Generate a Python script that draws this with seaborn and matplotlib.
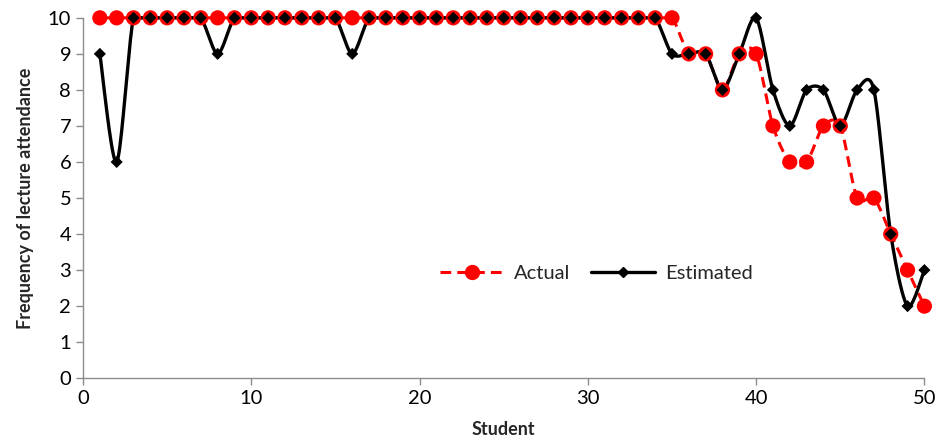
import numpy as np
import pandas as pd
import matplotlib
matplotlib.use("Agg")
import matplotlib.pyplot as plt
from matplotlib.lines import Line2D
import seaborn as sns

students = list(range(1, 51))
actual = [10]*35 + [9, 9, 8, 9, 9, 7, 6, 6, 7, 7, 5, 5, 4, 3, 2]
estimated = ([9, 6, 10, 10, 10, 10, 10, 9] + [10]*7 + [9] + [10]*18 +
             [9, 9, 9, 8, 9, 10, 8, 7, 8, 8, 7, 8, 8, 4, 2, 3])

def smooth(x, y, n=20, k=7.0):
    x = np.asarray(x, float); y = np.asarray(y, float)
    xs, ys = [], []
    N = len(x)
    for i in range(N - 1):
        p0 = np.array([x[max(i-1, 0)], y[max(i-1, 0)]])
        p1 = np.array([x[i], y[i]])
        p2 = np.array([x[i+1], y[i+1]])
        p3 = np.array([x[min(i+2, N-1)], y[min(i+2, N-1)]])
        c1 = p1 + (p2 - p0) / k
        c2 = p2 - (p3 - p1) / k
        t = np.linspace(0, 1, n, endpoint=(i == N - 2))[:, None]
        pts = ((1-t)**3)*p1 + 3*((1-t)**2)*t*c1 + 3*(1-t)*(t**2)*c2 + (t**3)*p2
        xs.extend(pts[:, 0]); ys.extend(pts[:, 1])
    return np.array(xs), np.clip(np.array(ys), y.min(), y.max())

sns.set_style("white")
plt.rcParams['font.family'] = ['Lato', 'DejaVu Sans']

fig = plt.figure(figsize=(9.38, 4.46), dpi=100)
ax = fig.add_axes([0.0885, 0.152, 0.897, 0.808])

df = pd.DataFrame({"Student": students, "Actual": actual, "Estimated": estimated})

ax_x, ay = smooth(students, actual)
ex, ey = smooth(students, estimated)
sns.lineplot(x=ax_x, y=ay, ax=ax, color="#ff0000", linestyle=(0, (3.5, 2)), lw=2.2, sort=False, estimator=None)
sns.scatterplot(data=df, x="Student", y="Actual", ax=ax, color="#ff0000", marker="o", s=120,
                edgecolor="none", zorder=3, clip_on=False)
sns.lineplot(x=ex, y=ey, ax=ax, color="black", lw=2.4, sort=False, estimator=None)
sns.scatterplot(data=df, x="Student", y="Estimated", ax=ax, color="black", marker="D", s=38,
                edgecolor="none", zorder=4, clip_on=False)
for ln in ax.lines:
    ln.set_clip_on(False)

ax.set_xlim(0, 50)
ax.set_ylim(0, 10)
ax.set_xticks(range(0, 51, 10))
ax.set_yticks(range(0, 11))
for s in ["top", "right"]:
    ax.spines[s].set_visible(False)
for s in ["left", "bottom"]:
    ax.spines[s].set_color("#8c8c8c")
    ax.spines[s].set_linewidth(1.0)
ax.tick_params(axis="both", colors="#8c8c8c", labelcolor="black", labelsize=14.5,
               length=5, width=1, direction="out", left=True, bottom=True)
ax.set_xlabel("Student", fontsize=13, fontweight="bold", labelpad=10)
ax.set_ylabel("Frequency of lecture attendance", fontsize=13, fontweight="bold", labelpad=10)

handles = [Line2D([], [], color="#ff0000", linestyle=(0, (3.5, 2)), lw=2.2, marker="o", markersize=10),
           Line2D([], [], color="black", lw=2.4, marker="D", markersize=5)]
ax.legend(handles, ["Actual", "Estimated"], loc="center", bbox_to_anchor=(0.61, 0.29),
          ncol=2, frameon=False, fontsize=14.5, handlelength=3.2, columnspacing=1.0, handletextpad=0.5)

fig.savefig("out.png", dpi=100)
